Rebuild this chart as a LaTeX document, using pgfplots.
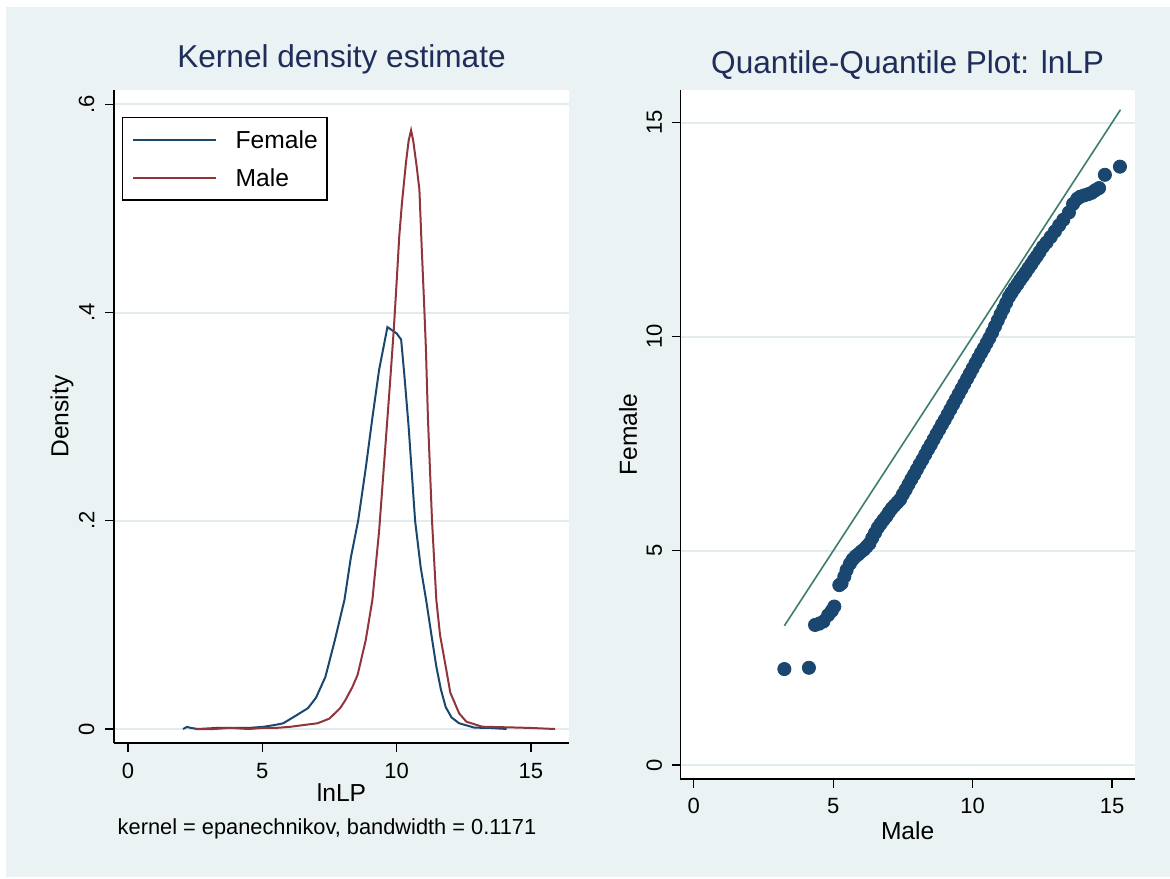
\documentclass[border=0pt]{standalone}
\usepackage{fontspec}
\setmainfont{Liberation Sans}
\usepackage{pgfplots}
\pgfplotsset{compat=1.18}
\definecolor{bgc}{RGB}{234,242,243}
\definecolor{gridc}{RGB}{226,236,239}
\definecolor{navyc}{RGB}{26,71,111}
\definecolor{maroonc}{RGB}{144,53,59}
\definecolor{refc}{RGB}{60,125,110}
\definecolor{titlec}{RGB}{30,45,90}
\pgfplotsset{
  stata/.style={
    scale only axis,
    axis lines*=left,
    axis line style={black, line width=0.65pt, -},
    tick align=outside,
    major tick length=4.25pt,
    tick style={black, line width=0.65pt},
    axis background/.style={fill=white},
    ymajorgrids,
    grid style={gridc, line width=1pt},
    xticklabel style={font=\fontsize{11}{13}\selectfont, inner sep=0pt},
    yticklabel style={font=\fontsize{11}{13}\selectfont, rotate=90, anchor=south, inner sep=0pt},
    label style={font=\fontsize{12.3}{14.5}\selectfont, inner sep=0pt},
    title style={font=\fontsize{15.8}{19}\selectfont, color=titlec, inner sep=0pt, anchor=base},
    clip=false,
  }
}
\begin{document}
\begin{tikzpicture}
\fill[white] (0,0) rectangle (585pt,439pt);
\fill[bgc] (3pt,0.5pt) rectangle (585pt,435.5pt);

\begin{axis}[stata,
  at={(57pt,67.5pt)}, anchor=south west,
  width=227.5pt, height=326.5pt,
  xmin=-0.52, xmax=16.42, ymin=-0.01345, ymax=0.6137,
  xtick={0,5,10,15}, xticklabels={0,5,10,15},
  ytick={0,0.2,0.4,0.6}, yticklabels={0,.2,.4,.6},
  xticklabel shift=5.8pt, yticklabel shift=5.4pt,
  title={Kernel density estimate},
  title style={at={(axis description cs:0.5,1)}, yshift=5pt},
  xlabel={lnLP},
  xlabel style={at={(axis description cs:0.5,0)}, anchor=base, yshift=-29.35pt},
  ylabel={Density},
  ylabel style={at={(axis description cs:-0.1143,0.5)}, anchor=center},
  legend style={at={(axis description cs:0.0169,0.959)}, anchor=north west,
    draw=black, line width=0.7pt, fill=white,
    inner xsep=4.65pt, inner ysep=6.7pt, row sep=10pt, column sep=9.5pt,
    nodes={inner sep=0pt, text depth=0pt, font=\fontsize{12.3}{14.5}\selectfont}},
  legend cell align=left,
  legend image code/.code={\draw[#1] (0pt,0pt) -- (41.5pt,0pt);},
]
\addplot[navyc, line width=1pt] coordinates {
(2.05,0.000) (2.2,0.002) (2.35,0.001) (2.6,0.000) (3.3,0.001) (4.0,0.001)
(4.5,0.001) (5.07,0.0022) (5.5,0.004) (5.78,0.0055) (6.2,0.012) (6.7,0.020)
(7.0,0.030) (7.35,0.050) (7.7,0.085) (8.06,0.124) (8.3,0.165) (8.57,0.200)
(8.85,0.250) (9.09,0.297) (9.35,0.345) (9.66,0.386) (10.0,0.380) (10.17,0.374)
(10.3,0.337) (10.45,0.290) (10.69,0.200) (10.9,0.155) (11.1,0.124) (11.3,0.090)
(11.48,0.060) (11.65,0.038) (11.83,0.021) (12.05,0.011) (12.33,0.0055)
(12.9,0.0013) (13.5,0.001) (14.1,0.000)
};
\addlegendentry{Female}
\addplot[maroonc, line width=1pt] coordinates {
(2.5,0.000) (3.2,0.000) (3.8,0.001) (4.5,0.000) (5.0,0.001) (5.5,0.001)
(6.07,0.0022) (6.6,0.004) (7.06,0.0055) (7.5,0.010) (7.9,0.020) (8.1,0.028)
(8.35,0.040) (8.55,0.052) (8.85,0.085) (9.1,0.124) (9.35,0.190) (9.55,0.260)
(9.75,0.330) (9.9,0.385) (10.0,0.428) (10.1,0.473) (10.2,0.505) (10.35,0.544)
(10.45,0.565) (10.54,0.575) (10.62,0.565) (10.75,0.540) (10.85,0.518)
(10.94,0.460) (11.02,0.412) (11.09,0.367) (11.17,0.297) (11.32,0.200)
(11.48,0.124) (11.62,0.090) (11.83,0.060) (12.0,0.035) (12.33,0.015)
(12.6,0.007) (13.19,0.0022) (14.3,0.0015) (15.0,0.001) (15.9,0.000)
};
\addlegendentry{Male}
\end{axis}

\node[anchor=base, font=\fontsize{10.9}{13}\selectfont] at (163.5pt,22pt) {kernel = epanechnikov, bandwidth = 0.1171};

\begin{axis}[stata,
  at={(340.15pt,49.5pt)}, anchor=south west,
  width=227.35pt, height=344.5pt,
  xmin=-0.48, xmax=15.82, ymin=-0.327, ymax=15.76,
  xtick={0,5,10,15}, xticklabels={0,5,10,15},
  ytick={0,5,10,15}, yticklabels={0,5,10,15},
  xticklabel shift=5.35pt, yticklabel shift=4.6pt,
  title={Quantile-Quantile Plot: lnLP},
  title style={at={(axis description cs:0.5,1)}, yshift=2pt},
  xlabel={Male},
  xlabel style={at={(axis description cs:0.5,0)}, anchor=base, yshift=-30.15pt},
  ylabel={Female},
  ylabel style={at={(axis description cs:-0.115,0.5)}, anchor=center},
]
\addplot[only marks, mark=*, mark size=3.3pt, mark options={draw=navyc, fill=navyc}] coordinates {
(3.25,2.24) (4.13,2.27) (4.35,3.27) (4.5,3.30) (4.65,3.35) (4.82,3.50) (4.95,3.60) (5.04,3.70)
(5.22,4.20) (5.30,4.24) (5.40,4.40) (5.48,4.55) (5.6,4.70) (5.7,4.80) (5.8,4.87) (5.9,4.92)
(6.0,4.98) (6.1,5.03) (6.2,5.10) (6.3,5.17) (6.4,5.30) (6.5,5.42) (6.6,5.54) (6.7,5.63)
(6.8,5.72) (6.9,5.80) (7.0,5.90) (7.1,5.99) (7.2,6.06) (7.3,6.13) (7.4,6.20)
(7.5,6.32) (7.6,6.43) (7.7,6.55) (7.8,6.67) (7.9,6.78) (8.0,6.90) (8.1,7.02) (8.2,7.13)
(8.3,7.25) (8.4,7.37) (8.5,7.48) (8.6,7.60) (8.7,7.72) (8.8,7.83) (8.9,7.95) (9.0,8.06)
(9.1,8.18) (9.2,8.30) (9.3,8.42) (9.4,8.54) (9.5,8.66) (9.6,8.78) (9.7,8.90) (9.8,9.02)
(9.9,9.14) (10.0,9.26) (10.1,9.38) (10.2,9.50) (10.3,9.62) (10.4,9.73) (10.5,9.85) (10.6,9.97)
(10.7,10.10) (10.8,10.24) (10.9,10.38) (11.0,10.52) (11.1,10.65) (11.2,10.79) (11.3,10.93)
(11.4,11.03) (11.5,11.13) (11.6,11.22) (11.7,11.32) (11.8,11.41) (11.9,11.50) (12.0,11.60)
(12.1,11.69) (12.2,11.79) (12.3,11.88) (12.4,11.98) (12.52,12.10) (12.65,12.20) (12.8,12.33)
(12.95,12.46) (13.1,12.60) (13.25,12.73) (13.45,12.90) (13.6,13.10) (13.75,13.22) (13.86,13.27)
(14.0,13.30) (14.15,13.33) (14.27,13.36) (14.4,13.42) (14.53,13.47) (14.74,13.78) (15.28,13.97)
};
\addplot[refc, line width=0.8pt] coordinates {(3.25,3.25) (15.3,15.3)};
\end{axis}
\pgfresetboundingbox
\path (0,0) rectangle (585pt,439pt);
\end{tikzpicture}
\end{document}
